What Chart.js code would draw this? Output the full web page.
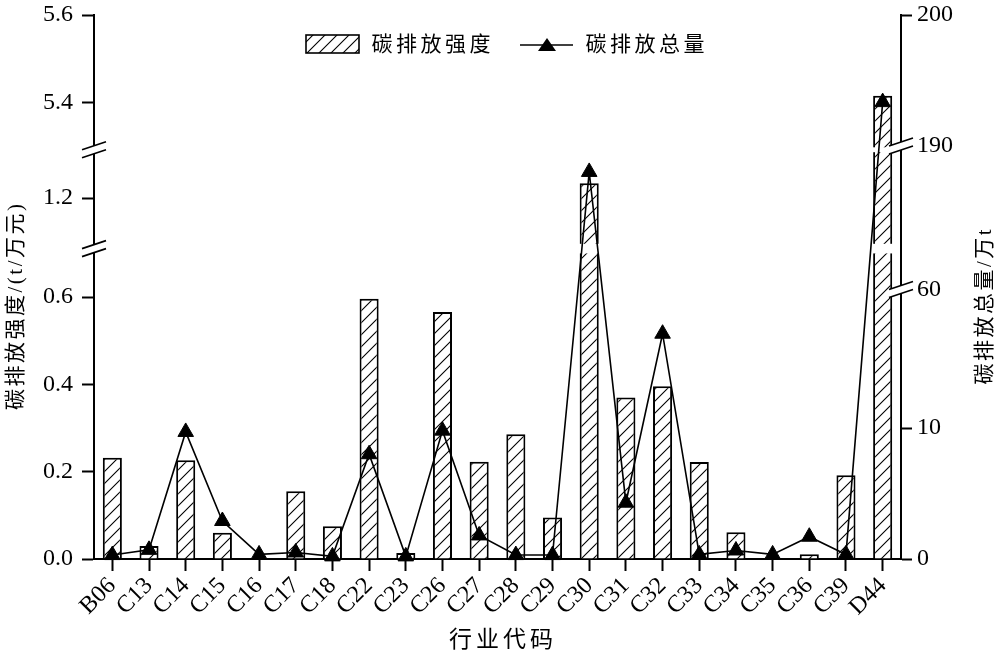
<!DOCTYPE html>
<html>
<head>
<meta charset="utf-8">
<title>碳排放强度与碳排放总量</title>
<script src="https://cdn.jsdelivr.net/npm/chart.js"></script>
<style>
    html, body { margin: 0; padding: 0; background: #fff; }
    #wrap { width: 1000px; height: 658px; }
</style>
</head>
<body>
<div id="wrap"><canvas id="myChart" width="1000" height="658"></canvas></div>
<script>
// data
var industries = ['B06', 'C13', 'C14', 'C15', 'C16', 'C17', 'C18', 'C22', 'C23', 'C26', 'C27',
    'C28', 'C29', 'C30', 'C31', 'C32', 'C33', 'C34', 'C35', 'C36', 'C39', 'D44'];
// 碳排放强度 t/万元 (left axis)
var intensity = [0.232, 0.030, 0.226, 0.060, 0.001, 0.155, 0.075, 0.596, 0.014, 0.566, 0.223,
    0.286, 0.095, 1.234, 0.370, 0.396, 0.222, 0.061, 0.002, 0.011, 0.192, 5.415];
// 碳排放总量 万t (right axis)
var totalEmission = [0.3, 0.7, 9.7, 2.9, 0.35, 0.5, 0.2, 8.0, 0.2, 9.8, 1.8,
    0.3, 0.3, 166.5, 4.3, 17.2, 0.35, 0.65, 0.35, 1.7, 0.35, 193.3];
var leftTicks = [0, 0.2, 0.4, 0.6, 1.2, 5.4, 5.6];
var rightTicks = [0, 10, 60, 190, 200];

// broken axes: [from value, to value, from share, to share] of the plot height
var leftPieces = [[0, 0.7, 0, 0.5617], [1.095, 1.305, 0.5794, 0.7478], [5.297, 5.6, 0.7568, 1]];
var rightPieces = [[0, 20.5, 0, 0.4936], [60, 190, 0.4954, 0.7592], [190, 200, 0.761, 1]];

var scalePieces = { y: leftPieces, y1: rightPieces };
var scaleTicks = { y: leftTicks, y1: rightTicks };

var latin = "'Liberation Serif', 'Noto Sans CJK SC', serif";
var cjk = "'Liberation Serif', 'Noto Sans CJK SC', sans-serif";

class BrokenScale extends Chart.LinearScale {
    buildTicks() {
        this.start = this.min;
        this.end = this.max;
        return scaleTicks[this.id].map(function (v) { return { value: v }; });
    }
    getPixelForValue(value) {
        var pieces = scalePieces[this.id];
        var f = 1;
        for (var i = 0; i < pieces.length; i++) {
            var p = pieces[i];
            if (value <= p[1]) {
                f = value < p[0] ? p[2] : p[2] + (value - p[0]) / (p[1] - p[0]) * (p[3] - p[2]);
                break;
            }
        }
        return this.getPixelForDecimal(f);
    }
    getValueForPixel(pixel) {
        var pieces = scalePieces[this.id];
        var f = this.getDecimalForPixel(pixel);
        for (var i = 0; i < pieces.length; i++) {
            var p = pieces[i];
            if (f <= p[3]) {
                return f < p[2] ? p[0] : p[0] + (f - p[2]) / (p[3] - p[2]) * (p[1] - p[0]);
            }
        }
        return pieces[pieces.length - 1][1];
    }
}
BrokenScale.id = 'broken';
BrokenScale.defaults = Chart.LinearScale.defaults;
Chart.register(BrokenScale);

function makeHatch() {
    var s = 12;
    var c = document.createElement('canvas');
    c.width = s;
    c.height = s;
    var g = c.getContext('2d');
    g.fillStyle = '#fff';
    g.fillRect(0, 0, s, s);
    g.strokeStyle = '#000';
    g.lineWidth = 1.1;
    g.beginPath();
    g.moveTo(0, s); g.lineTo(s, 0);
    g.moveTo(-2, 2); g.lineTo(2, -2);
    g.moveTo(s - 2, s + 2); g.lineTo(s + 2, s - 2);
    g.stroke();
    return c;
}

function drawBreak(ctx, x, yc) {
    ctx.save();
    ctx.fillStyle = '#fff';
    ctx.beginPath();
    ctx.moveTo(x - 12, yc);
    ctx.lineTo(x + 12, yc - 8);
    ctx.lineTo(x + 12, yc);
    ctx.lineTo(x - 12, yc + 8);
    ctx.closePath();
    ctx.fill();
    ctx.strokeStyle = '#000';
    ctx.lineWidth = 1.6;
    ctx.beginPath();
    ctx.moveTo(x - 12, yc); ctx.lineTo(x + 12, yc - 8);
    ctx.moveTo(x - 12, yc + 8); ctx.lineTo(x + 12, yc);
    ctx.stroke();
    ctx.restore();
}

function spacedText(ctx, text, x, y, rot, font, spacing) {
    ctx.save();
    ctx.translate(x, y);
    ctx.rotate(rot);
    ctx.font = font;
    ctx.letterSpacing = spacing + 'px';
    ctx.fillStyle = '#000';
    ctx.textAlign = 'center';
    ctx.textBaseline = 'middle';
    ctx.fillText(text, spacing / 2, 0);
    ctx.restore();
}

var hatch = null;

var decorations = {
    id: 'decorations',
    afterDatasetDraw: function (chart, args) {
        if (args.meta.type !== 'bar') return;
        var ctx = chart.ctx;
        var y = chart.scales.y;
        var gaps = [];
        for (var i = 0; i < leftPieces.length - 1; i++) {
            gaps.push([y.getPixelForDecimal(leftPieces[i][3]), y.getPixelForDecimal(leftPieces[i + 1][2])]);
        }
        ctx.save();
        ctx.fillStyle = '#fff';
        args.meta.data.forEach(function (bar) {
            gaps.forEach(function (g) {
                if (bar.y < g[1]) {
                    ctx.fillRect(bar.x - bar.width / 2 - 2, g[1], bar.width + 4, g[0] - g[1]);
                }
            });
        });
        ctx.restore();
    },
    afterDraw: function (chart) {
        var ctx = chart.ctx;
        var area = chart.chartArea;
        var y = chart.scales.y;
        var y1 = chart.scales.y1;

        // axis breaks
        for (var i = 0; i < leftPieces.length - 1; i++) {
            var yc = (y.getPixelForDecimal(leftPieces[i][3]) + y.getPixelForDecimal(leftPieces[i + 1][2])) / 2;
            drawBreak(ctx, area.left, yc);
        }
        drawBreak(ctx, area.right, y1.getPixelForValue(60));
        drawBreak(ctx, area.right, y1.getPixelForValue(190));

        // legend
        ctx.save();
        ctx.fillStyle = ctx.createPattern(hatch, 'repeat');
        ctx.fillRect(306, 35, 53, 18);
        ctx.strokeStyle = '#000';
        ctx.lineWidth = 1.6;
        ctx.strokeRect(306, 35, 53, 18);
        ctx.beginPath();
        ctx.moveTo(520, 45);
        ctx.lineTo(573, 45);
        ctx.stroke();
        ctx.fillStyle = '#000';
        ctx.beginPath();
        ctx.moveTo(547, 38);
        ctx.lineTo(556, 51);
        ctx.lineTo(538, 51);
        ctx.closePath();
        ctx.fill();
        ctx.restore();
        spacedText(ctx, '碳排放强度', 431, 45, 0, '21px ' + cjk, 3.5);
        spacedText(ctx, '碳排放总量', 645, 45, 0, '21px ' + cjk, 3.5);

        // axis titles
        spacedText(ctx, '行业代码', 501, 641, 0, '23px ' + cjk, 4);
        spacedText(ctx, '碳排放强度/(t/万元)', 16, 307, -Math.PI / 2, '21px ' + cjk, 2.5);
        spacedText(ctx, '碳排放总量/万t', 985, 307, -Math.PI / 2, '21px ' + cjk, 2.5);
    }
};

function setUpChart() {
    hatch = makeHatch();
    var ctx = document.getElementById('myChart').getContext('2d');
    var pattern = ctx.createPattern(hatch, 'repeat');

    Chart.defaults.font.family = latin;
    Chart.defaults.font.size = 24;
    Chart.defaults.color = '#000';

    var myChart = new Chart(ctx, {
        type: 'bar',
        data: {
            labels: industries,
            datasets: [{
                type: 'line',
                label: '碳排放总量',
                data: totalEmission,
                yAxisID: 'y1',
                order: 0,
                borderColor: '#000',
                borderWidth: 1.6,
                tension: 0,
                clip: false,
                pointStyle: 'triangle',
                pointRadius: 9,
                pointBackgroundColor: '#000',
                pointBorderColor: '#000',
                pointBorderWidth: 1
            }, {
                type: 'bar',
                label: '碳排放强度',
                data: intensity,
                yAxisID: 'y',
                order: 1,
                backgroundColor: pattern,
                borderColor: '#000',
                borderWidth: 2,
                barPercentage: 0.52,
                categoryPercentage: 1
            }]
        },
        options: {
            responsive: false,
            animation: false,
            layout: { padding: { top: 15, left: 0, right: 0, bottom: 0 } },
            plugins: {
                legend: { display: false },
                tooltip: { enabled: false }
            },
            scales: {
                x: {
                    type: 'category',
                    offset: true,
                    grid: { offset: false, drawOnChartArea: false, color: '#000', tickLength: 12, tickWidth: 2 },
                    border: { display: true, color: '#000', width: 2 },
                    ticks: { autoSkip: false, minRotation: 45, maxRotation: 45, padding: 1 },
                    afterFit: function (scale) {
                        scale.height = 99;
                        scale.paddingLeft = 0;
                        scale.paddingRight = 0;
                    }
                },
                y: {
                    type: 'broken',
                    position: 'left',
                    min: 0,
                    max: 5.6,
                    grid: { drawOnChartArea: false, color: '#000', tickLength: 12, tickWidth: 2 },
                    border: { display: true, color: '#000', width: 2 },
                    ticks: {
                        padding: 9,
                        callback: function (v) { return Number(v).toFixed(1); }
                    },
                    afterFit: function (scale) {
                        scale.width = 94;
                        scale.paddingTop = 0;
                        scale.paddingBottom = 0;
                    }
                },
                y1: {
                    type: 'broken',
                    position: 'right',
                    min: 0,
                    max: 200,
                    grid: {
                        drawOnChartArea: false,
                        tickLength: 11,
                        tickWidth: 2,
                        color: function (c) {
                            return c.tick && (c.tick.value === 60 || c.tick.value === 190) ? 'rgba(0,0,0,0)' : '#000';
                        }
                    },
                    border: { display: true, color: '#000', width: 2 },
                    ticks: {
                        padding: 5,
                        callback: function (v) { return String(v); }
                    },
                    afterFit: function (scale) {
                        scale.width = 99;
                        scale.paddingTop = 0;
                        scale.paddingBottom = 0;
                    }
                }
            }
        },
        plugins: [decorations]
    });
}

setUpChart();
</script>
</body>
</html>
